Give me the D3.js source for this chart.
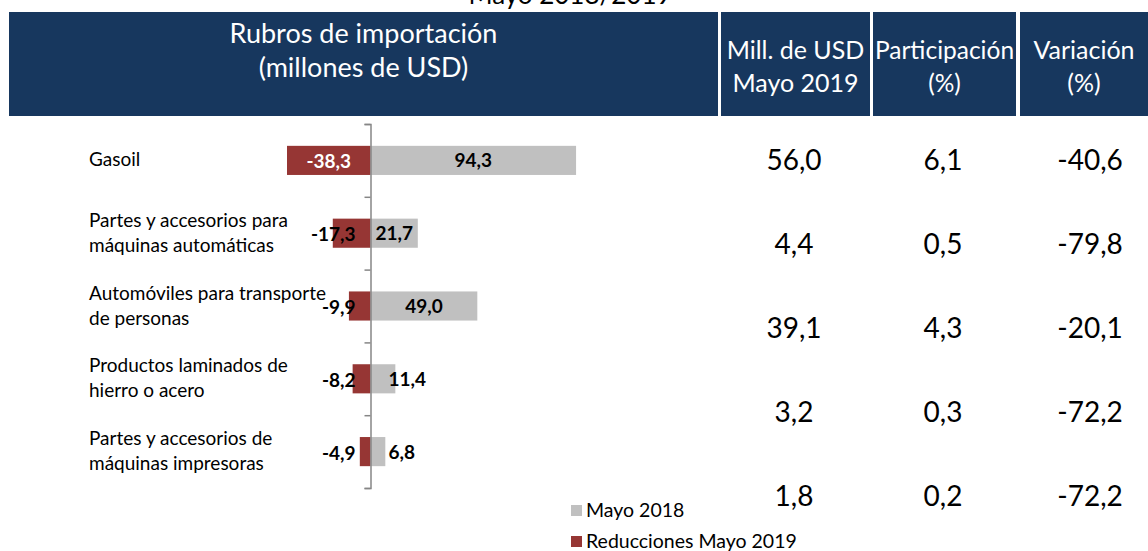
<!DOCTYPE html>
<html>
<head>
<meta charset="utf-8">
<script src="https://cdn.jsdelivr.net/npm/d3@7"></script>
<style>
  body { margin: 0; background: #fff; }
  text { font-family: Lato, "Open Sans", sans-serif; }
</style>
</head>
<body>
<div id="chart"></div>
<script>
// data
var categories = [
  "Gasoil",
  "Partes y accesorios para\nmáquinas automáticas",
  "Automóviles para transporte\nde personas",
  "Productos laminados de\nhierro o acero",
  "Partes y accesorios de\nmáquinas impresoras"
];
var mayo2018 = [94.3, 21.7, 49.0, 11.4, 6.8];
var reducciones = [-38.3, -17.3, -9.9, -8.2, -4.9];
var millUSD2019 = [56.0, 4.4, 39.1, 3.2, 1.8];
var participacion = [6.1, 0.5, 4.3, 0.3, 0.2];
var variacion = [-40.6, -79.8, -20.1, -72.2, -72.2];
var seriesNames = ["Mayo 2018", "Reducciones Mayo 2019"];

var width = 1148, height = 551;
var navy = "#17375e", grey = "#c0c0c0", red = "#963634";

var fmt = d3.formatLocale({decimal: ",", thousands: ".", grouping: [3], currency: ["", ""], minus: "-"}).format(".1f");

var svg = d3.select("#chart").append("svg")
  .attr("width", width)
  .attr("height", height);

// cut-off title at the very top
svg.append("text")
  .attr("x", 570).attr("y", 4)
  .attr("text-anchor", "middle")
  .style("font-size", "26px")
  .text("Mayo 2018/2019");

// header boxes
var headers = [
  {x0: 9, x1: 718, lines: ["Rubros de importación", "(millones de USD)"], y: [43, 77], size: 27},
  {x0: 721, x1: 870, lines: ["Mill. de USD", "Mayo 2019"], y: [59, 92], size: 25},
  {x0: 873, x1: 1016, lines: ["Participación", "(%)"], y: [59, 92], size: 24.5},
  {x0: 1020, x1: 1148, lines: ["Variación", "(%)"], y: [59, 92], size: 25}
];
var hg = svg.selectAll("g.head").data(headers).enter().append("g").attr("class", "head");
hg.append("rect")
  .attr("x", function(d) { return d.x0; })
  .attr("y", 12)
  .attr("width", function(d) { return d.x1 - d.x0; })
  .attr("height", 104)
  .attr("fill", navy);
hg.each(function(d) {
  var g = d3.select(this);
  d.lines.forEach(function(l, i) {
    g.append("text")
      .attr("x", (d.x0 + d.x1) / 2)
      .attr("y", d.y[i])
      .attr("text-anchor", "middle")
      .attr("fill", "#fff")
      .style("font-size", d.size + "px")
      .text(l);
  });
});

// scales
var x = d3.scaleLinear().domain([-50, 100]).range([261.5, 588.5]);
var y = d3.scaleBand().domain(categories).range([124, 488]).paddingInner(0.6).paddingOuter(0.3);
var yRows = d3.scaleBand().domain(categories).range([118, 538]);
var yTicks = d3.scaleLinear().domain([0, categories.length]).range([124, 488]);

var rows = categories.map(function(c, i) {
  return {cat: c, pos: mayo2018[i], neg: reducciones[i], mill: millUSD2019[i], part: participacion[i], vari: variacion[i]};
});

// bars
svg.selectAll("rect.pos").data(rows).enter().append("rect")
  .attr("class", "pos")
  .attr("x", x(0))
  .attr("y", function(d) { return y(d.cat); })
  .attr("width", function(d) { return x(d.pos) - x(0); })
  .attr("height", y.bandwidth())
  .attr("fill", grey);

svg.selectAll("rect.neg").data(rows).enter().append("rect")
  .attr("class", "neg")
  .attr("x", function(d) { return x(d.neg); })
  .attr("y", function(d) { return y(d.cat); })
  .attr("width", function(d) { return x(0) - x(d.neg); })
  .attr("height", y.bandwidth())
  .attr("fill", red);

// axis with ticks between categories
var axis = svg.append("g")
  .attr("transform", "translate(" + x(0) + ",0)")
  .call(d3.axisLeft(yTicks).ticks(categories.length).tickSize(6).tickFormat(""));
axis.selectAll("path, line").attr("stroke", "#868686").attr("stroke-width", 1.5);

// bar labels
svg.selectAll("text.pos").data(rows).enter().append("text")
  .attr("class", "pos")
  .attr("x", function(d) {
    var w = x(d.pos) - x(0);
    return w > 40 ? x(0) + w / 2 : x(0) + 18;
  })
  .attr("y", function(d) { return y(d.cat) + y.bandwidth() / 2 + 7; })
  .attr("text-anchor", function(d) { return x(d.pos) - x(0) > 40 ? "middle" : "start"; })
  .style("font-size", "19px")
  .style("font-weight", "bold")
  .text(function(d) { return fmt(d.pos); });

svg.selectAll("text.neg").data(rows).enter().append("text")
  .attr("class", "neg")
  .attr("x", function(d) {
    var w = x(0) - x(d.neg);
    return w > 60 ? x(0) - w / 2 : x(0) - 15;
  })
  .attr("y", function(d) { return y(d.cat) + y.bandwidth() / 2 + 8; })
  .attr("text-anchor", function(d) { return x(0) - x(d.neg) > 60 ? "middle" : "end"; })
  .attr("fill", function(d) { return x(0) - x(d.neg) > 60 ? "#fff" : "#000"; })
  .style("font-size", "19px")
  .style("font-weight", "bold")
  .text(function(d) { return fmt(d.neg); });

// category labels
svg.selectAll("text.cat").data(rows).enter().append("text")
  .attr("class", "cat")
  .attr("x", 89)
  .attr("y", function(d) { return y(d.cat) + y.bandwidth() / 2; })
  .style("font-size", "19px")
  .each(function(d) {
    var lines = d.cat.split("\n");
    var t = d3.select(this);
    lines.forEach(function(l, i) {
      t.append("tspan")
        .attr("x", 89)
        .attr("dy", i === 0 ? (6 - (lines.length - 1) * 12.5) : 25)
        .text(l);
    });
  });

// table values
var cols = [
  {key: "mill", cx: 794},
  {key: "part", cx: 943},
  {key: "vari", cx: 1090}
];
cols.forEach(function(c) {
  svg.selectAll("text." + c.key).data(rows).enter().append("text")
    .attr("class", c.key)
    .attr("x", c.cx)
    .attr("y", function(d) { return yRows(d.cat) + yRows.bandwidth() / 2 + 10; })
    .attr("text-anchor", "middle")
    .style("font-size", "28px")
    .text(function(d) { return fmt(d[c.key]); });
});

// legend
var legend = svg.selectAll("g.leg").data(seriesNames).enter().append("g")
  .attr("class", "leg")
  .attr("transform", function(d, i) { return "translate(571," + (505 + i * 31) + ")"; });
legend.append("rect")
  .attr("width", 11).attr("height", 11)
  .attr("fill", function(d, i) { return i === 0 ? grey : red; });
legend.append("text")
  .attr("x", 15).attr("y", 12)
  .style("font-size", "19.5px")
  .text(function(d) { return d; });
</script>
</body>
</html>
